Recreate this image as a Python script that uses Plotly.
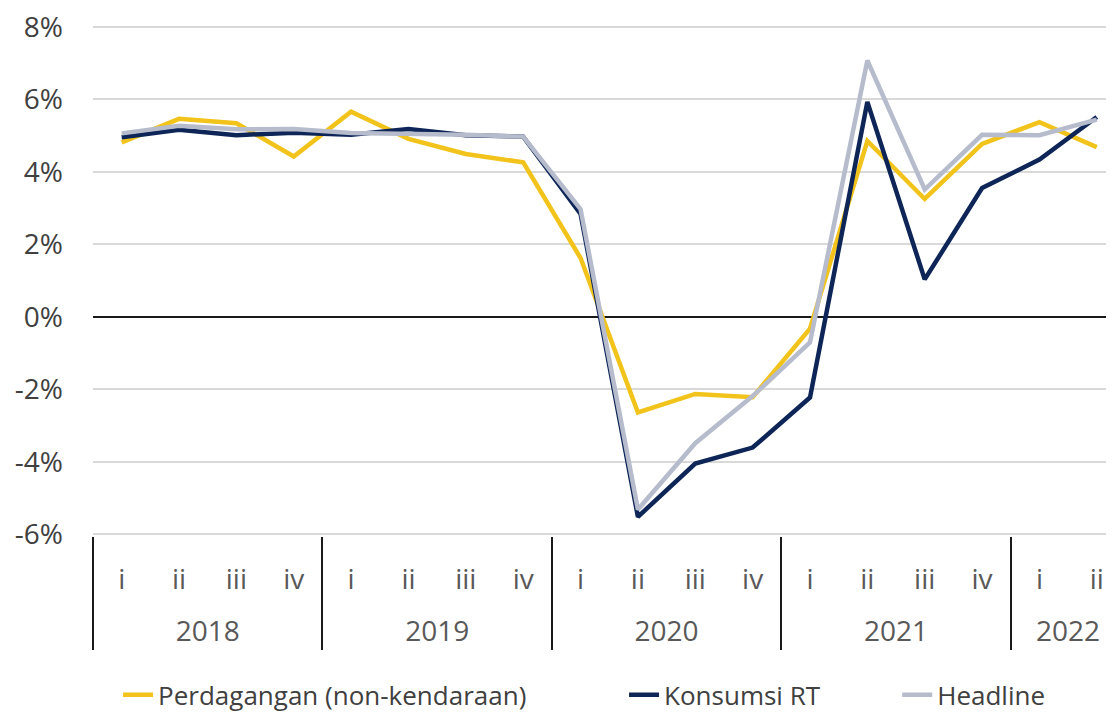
import plotly.graph_objects as go

years = ["2018"] * 4 + ["2019"] * 4 + ["2020"] * 4 + ["2021"] * 4 + ["2022"] * 2
quarters = ["i", "ii", "iii", "iv"] * 4 + ["i", "ii"]

perdagangan = [4.81, 5.46, 5.34, 4.42, 5.66, 4.91, 4.49, 4.26,
               1.62, -2.64, -2.13, -2.22, -0.33, 4.85, 3.25, 4.77, 5.37, 4.68]
konsumsi = [4.95, 5.16, 5.01, 5.08, 5.02, 5.18, 5.01, 4.97,
            2.84, -5.52, -4.05, -3.61, -2.23, 5.93, 1.03, 3.55, 4.34, 5.51]
headline = [5.06, 5.27, 5.17, 5.18, 5.07, 5.05, 5.02, 4.97,
            2.97, -5.32, -3.49, -2.19, -0.71, 7.07, 3.51, 5.02, 5.01, 5.44]

series_names = ["Perdagangan (non-kendaraan)", "Konsumsi RT", "Headline"]
colors = ["#F2C31A", "#0D2557", "#B6BCCB"]
y_ticks = [-6, -4, -2, 0, 2, 4, 6, 8]

FONT = "Open Sans"
TXT = "#404040"

# year labels get a leading blank line so they sit lower, as in the reference
year_labels = ["<br>" + y for y in years]

fig = go.Figure()
for name, vals, col, lg in zip(series_names, [perdagangan, konsumsi, headline], colors,
                               ["legend", "legend2", "legend3"]):
    fig.add_trace(go.Scatter(
        x=[year_labels, quarters], y=vals, name=name, mode="lines",
        line=dict(color=col, width=4.5), legend=lg, showlegend=True,
    ))

leg_common = dict(orientation="h", xref="container", yref="container",
                  yanchor="middle", y=0.027, bgcolor="rgba(0,0,0,0)",
                  font=dict(family=FONT, size=26, color=TXT), xanchor="left",
                  itemwidth=30, tracegroupgap=0)

# the page body adds an 8px offset, so the figure is 8px smaller each way
fig.update_layout(
    width=1106, height=706,
    paper_bgcolor="white", plot_bgcolor="white",
    margin=dict(l=85, r=0, t=17, b=178),
    font=dict(family=FONT, size=26, color=TXT),
    showlegend=True,
    legend=dict(x=0.0995, **leg_common),
    legend2=dict(x=0.557, **leg_common),
    legend3=dict(x=0.804, **leg_common),
)
fig.update_yaxes(
    range=[-6.05, 8.05], tickvals=y_ticks, ticktext=[f"{v}%" for v in y_ticks],
    showgrid=True, gridcolor="#D9D9D9", gridwidth=1.5,
    zeroline=True, zerolinecolor="#1a1a1a", zerolinewidth=2,
    showline=False, ticks="", ticklabelstandoff=29, automargin=False,
    ticklabeloverflow="allow",
    tickfont=dict(family=FONT, size=28, color=TXT),
)
fig.update_xaxes(
    type="multicategory", range=[-0.5, 17.3], automargin=False,
    showgrid=False, showline=False, ticks="",
    ticklabelstandoff=24,
    showdividers=True, dividercolor="#1a1a1a", dividerwidth=2,
    tickfont=dict(family=FONT, size=28, color="#595959"),
)

fig.write_html("out.html")
